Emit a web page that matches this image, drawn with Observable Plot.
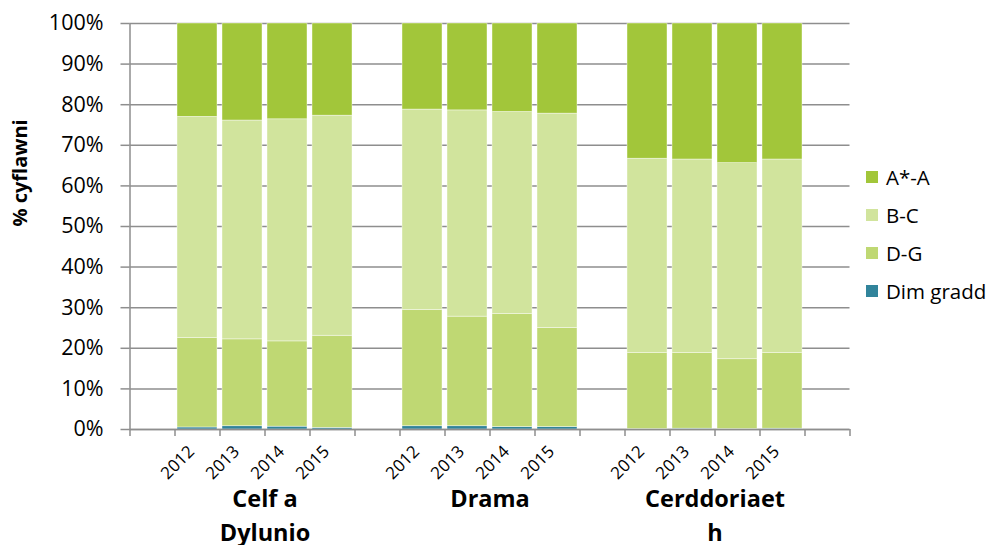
<!DOCTYPE html>
<html><head><meta charset="utf-8">
<script src="https://cdn.jsdelivr.net/npm/d3@7"></script>
<script src="https://cdn.jsdelivr.net/npm/@observablehq/plot@0.6"></script>
<style>
body{margin:0;background:#fff;font-family:"Open Sans",sans-serif;}
#wrap{position:relative;width:987px;height:545px;overflow:hidden;background:#fff;}
#wrap svg{position:absolute;left:0;top:0;}
#legend{position:absolute;left:866px;top:158px;font-size:20.5px;color:#000;}
.item{display:flex;align-items:center;height:38px;white-space:nowrap;}
.sw{width:12px;height:12px;margin-right:8px;flex:none;}
</style></head><body><div id="wrap"><div id="legend"></div></div>
<script>
const groups = ["Celf a Dylunio", "Drama", "Cerddoriaeth"];
const groupLabels = ["Celf a\nDylunio", "Drama", "Cerddoriaet\nh"];
const years = ["2012", "2013", "2014", "2015"];
const seriesNames = ["Dim gradd", "D-G", "B-C", "A*-A"]; // stacked bottom to top
const seriesColors = ["#31849b", "#bfd873", "#d1e49d", "#a2c63a"];
const legendOrder = ["A*-A", "B-C", "D-G", "Dim gradd"];
// percentage values per group (rows) and year (columns)
const dimGradd = [[0.5, 0.8, 0.7, 0.4], [0.8, 0.8, 0.6, 0.6], [0.1, 0.2, 0.1, 0.2]];
const dG = [[22.0, 21.4, 21.0, 22.7], [28.6, 27.0, 27.8, 24.4], [18.7, 18.6, 17.2, 18.6]];
const bC = [[54.5, 53.9, 54.7, 54.2], [49.4, 50.8, 49.8, 52.8], [47.9, 47.7, 48.3, 47.7]];
const aA = [[23.0, 23.9, 23.6, 22.7], [21.2, 21.4, 21.8, 22.2], [33.3, 33.5, 34.4, 33.5]];
const yTicks = [0, 10, 20, 30, 40, 50, 60, 70, 80, 90, 100];
const yTitle = "% cyflawni";

const seriesValues = [dimGradd, dG, bC, aA];
const perGroup = years.length + 1;
const nSlots = groups.length * perGroup + 1;
const boundaries = d3.range(0, nSlots + 1);

const rows = [];
const bars = [];
groups.forEach((g, gi) => {
  years.forEach((yr, yi) => {
    const slot = 1 + gi * perGroup + yi;
    bars.push({slot, xc: slot + 0.5, year: yr});
    let acc = 0;
    seriesNames.forEach((s, si) => {
      const v = seriesValues[si][gi][yi];
      rows.push({group: g, year: yr, series: s, x1: slot, x2: slot + 1, y1: acc, y2: acc + v});
      acc += v;
    });
  });
});
const groupRows = groups.map((g, gi) => ({group: g, label: groupLabels[gi], xc: 1 + gi * perGroup + years.length / 2}));

const grey = "#8e8e8e";
const chart = Plot.plot({
  width: 987, height: 545,
  marginLeft: 129.5, marginRight: 137.5, marginTop: 23, marginBottom: 116,
  x: {domain: [0, nSlots], axis: null},
  y: {domain: [0, 100], axis: null},
  color: {domain: seriesNames, range: seriesColors},
  style: {fontFamily: "'Open Sans', sans-serif", background: "transparent", color: "#000", overflow: "visible"},
  marks: [
    Plot.ruleY(yTicks, {stroke: grey, strokeWidth: 1.5}),
    Plot.axisY({ticks: yTicks, tickSize: 9, tickPadding: 17.5, tickFormat: d => d + "%", stroke: grey, strokeWidth: 1.5, fontSize: 21.5, label: null}),
    Plot.ruleX([0], {stroke: grey, strokeWidth: 1.5}),
    Plot.rectY(rows, {x1: "x1", x2: "x2", y1: "y1", y2: "y2", fill: "series", insetLeft: 2.5, insetRight: 2.5, stroke: "#fff", strokeWidth: 0.6, strokeOpacity: 0.7}),
    Plot.ruleY([0], {stroke: grey, strokeWidth: 1.5}),
    Plot.axisX({ticks: boundaries, tickSize: 7, tickFormat: () => "", stroke: grey, strokeWidth: 1.5, label: null}),
    Plot.text(bars, {x: "xc", text: "year", frameAnchor: "bottom", rotate: -45, dy: 37, dx: -16, fontSize: 17}),
    Plot.text(groupRows, {x: "xc", text: "label", frameAnchor: "bottom", lineAnchor: "top", dy: 53, fontSize: 23.5, fontWeight: "bold", lineHeight: 1.45}),
    Plot.text([yTitle], {frameAnchor: "left", rotate: -90, dx: -109.5, fontWeight: "bold", fontSize: 20})
  ]
});
const wrap = document.getElementById("wrap");
wrap.insertBefore(chart, wrap.firstChild);

const legend = d3.select("#legend");
legendOrder.forEach(name => {
  const item = legend.append("div").attr("class", "item");
  item.append("div").attr("class", "sw").style("background", seriesColors[seriesNames.indexOf(name)]);
  item.append("span").text(name);
});
</script></body></html>
